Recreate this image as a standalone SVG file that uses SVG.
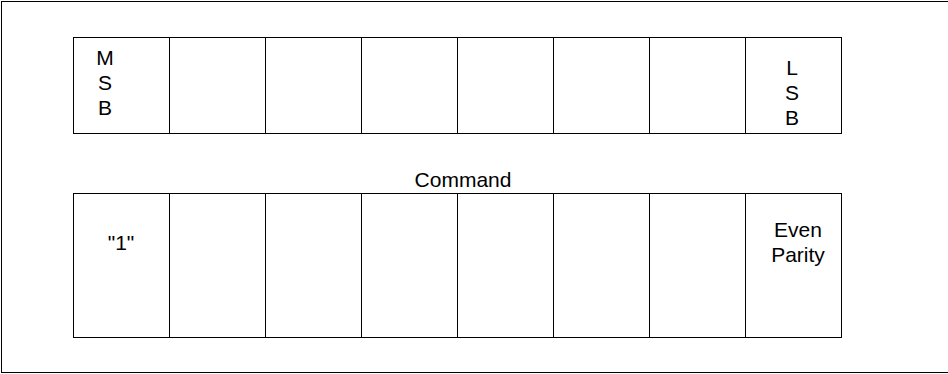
<svg xmlns="http://www.w3.org/2000/svg" width="948" height="374" viewBox="0 0 948 374">
<style>
.c{fill:#fff;stroke:#000;stroke-width:1}
.t{font-family:"Liberation Sans",Arial,sans-serif;font-size:21px;fill:#000;text-anchor:middle}
</style>
<rect x="1.5" y="1.5" width="950" height="371" fill="#fff" stroke="#000" stroke-width="1"/>
<g id="top-row">
<g id="t0"><rect class="c" x="73.5" y="37.5" width="96" height="96"/><text class="t" x="105" y="64.5">M</text><text class="t" x="105" y="89.5">S</text><text class="t" x="105" y="114.5">B</text></g>
<g id="t1"><rect class="c" x="169.5" y="37.5" width="96" height="96"/></g>
<g id="t2"><rect class="c" x="265.5" y="37.5" width="96" height="96"/></g>
<g id="t3"><rect class="c" x="361.5" y="37.5" width="96" height="96"/></g>
<g id="t4"><rect class="c" x="457.5" y="37.5" width="96" height="96"/></g>
<g id="t5"><rect class="c" x="553.5" y="37.5" width="96" height="96"/></g>
<g id="t6"><rect class="c" x="649.5" y="37.5" width="96" height="96"/></g>
<g id="t7"><rect class="c" x="745.5" y="37.5" width="96" height="96"/><text class="t" x="792" y="75">L</text><text class="t" x="792" y="100">S</text><text class="t" x="792" y="125">B</text></g>
</g>
<g id="label"><text class="t" x="463" y="186.5">Command</text></g>
<g id="bottom-row">
<g id="b0"><rect class="c" x="73.5" y="193.5" width="96" height="144"/><text class="t" x="121" y="250">"1"</text></g>
<g id="b1"><rect class="c" x="169.5" y="193.5" width="96" height="144"/></g>
<g id="b2"><rect class="c" x="265.5" y="193.5" width="96" height="144"/></g>
<g id="b3"><rect class="c" x="361.5" y="193.5" width="96" height="144"/></g>
<g id="b4"><rect class="c" x="457.5" y="193.5" width="96" height="144"/></g>
<g id="b5"><rect class="c" x="553.5" y="193.5" width="96" height="144"/></g>
<g id="b6"><rect class="c" x="649.5" y="193.5" width="96" height="144"/></g>
<g id="b7"><rect class="c" x="745.5" y="193.5" width="96" height="144"/><text class="t" x="798" y="237">Even</text><text class="t" x="798" y="261.5">Parity</text></g>
</g>
<g id="connectors"/>
</svg>
